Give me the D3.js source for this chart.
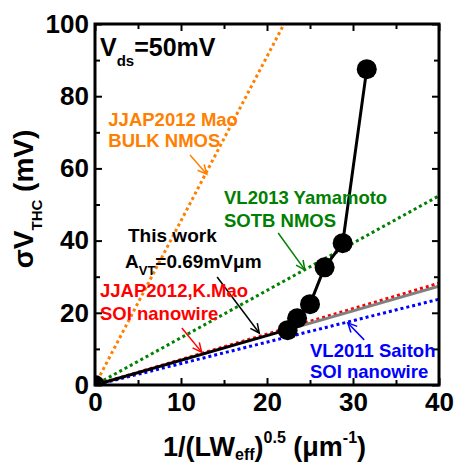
<!DOCTYPE html>
<html>
<head>
<meta charset="utf-8">
<script src="https://cdn.jsdelivr.net/npm/d3@7"></script>
<style>
  body { margin: 0; background: #fff; }
  text { font-family: "Liberation Sans", Arial, sans-serif; font-weight: bold; }
</style>
</head>
<body>
<div id="chart"></div>
<script>
// measured points (this work)
const workX = [22.4, 23.5, 25.0, 26.7, 28.8, 31.6];
const workY = [15.2, 18.5, 22.4, 32.6, 39.3, 87.5];

// fitted / reference lines: y = slope * x
const fitNames = ["JJAP2012 Mao BULK", "VL2013 Yamamoto SOTB", "VL2011 Saitoh SOI", "JJAP2012 K.Mao SOI", "This work ext", "This work"];
const fitSlopes = [4.55, 1.31, 0.594, 0.705, 0.685, 0.685];
const fitX0 = [0.6, 1, 1, 1, 21.3, 1];
const fitX1 = [40, 40, 40, 40, 40, 21.3];
const fitColors = ["#ff8000", "#008000", "#0000ff", "#ff0000", "#808080", "#000000"];
const fitDotted = [true, true, true, true, false, false];

const xTicks = [0, 10, 20, 30, 40];
const yTicks = [0, 20, 40, 60, 80, 100];

const margin = {top: 24, right: 15, bottom: 80, left: 95};
const width = 344, height = 361;

const svg = d3.select("#chart")
    .append("svg")
    .attr("width", 454)
    .attr("height", 465);

const g = svg.append("g")
    .attr("transform", `translate(${margin.left},${margin.top})`);

const x = d3.scaleLinear().domain([0, 40]).range([0, width]);
const y = d3.scaleLinear().domain([0, 100]).range([height, 0]);

svg.append("defs").append("clipPath").attr("id", "clip")
    .append("rect").attr("width", width).attr("height", height);

// minor ticks
g.append("g").attr("transform", `translate(0,${height})`)
    .call(d3.axisBottom(x).tickValues(d3.range(5, 40, 10)).tickSize(-5).tickFormat(""));
g.append("g")
    .call(d3.axisTop(x).tickValues(d3.range(5, 40, 10)).tickSize(-5).tickFormat(""));
g.append("g")
    .call(d3.axisLeft(y).tickValues(d3.range(10, 100, 20)).tickSize(-5).tickFormat(""));
g.append("g").attr("transform", `translate(${width},0)`)
    .call(d3.axisRight(y).tickValues(d3.range(10, 100, 20)).tickSize(-5).tickFormat(""));

// major ticks with labels
g.append("g").attr("transform", `translate(0,${height})`)
    .call(d3.axisBottom(x).tickValues(xTicks).tickSize(-7).tickPadding(8));
g.append("g")
    .call(d3.axisLeft(y).tickValues(yTicks).tickSize(-7).tickPadding(6));
g.append("g")
    .call(d3.axisTop(x).tickValues(xTicks).tickSize(-7).tickFormat(""));
g.append("g").attr("transform", `translate(${width},0)`)
    .call(d3.axisRight(y).tickValues(yTicks).tickSize(-7).tickFormat(""));

g.selectAll(".domain").remove();
g.selectAll(".tick line").attr("stroke", "#000").attr("stroke-width", 2);
g.selectAll(".tick text")
    .style("font-size", "26px")
    .style("font-family", "'Liberation Sans', Arial, sans-serif")
    .style("font-weight", "bold")
    .attr("fill", "#000");

// lines
const plot = g.append("g").attr("clip-path", "url(#clip)");
fitNames.forEach((name, i) => {
    plot.append("line")
        .attr("x1", x(fitX0[i])).attr("y1", y(fitSlopes[i] * fitX0[i]))
        .attr("x2", x(fitX1[i])).attr("y2", y(fitSlopes[i] * fitX1[i]))
        .attr("stroke", fitColors[i])
        .attr("stroke-width", 3)
        .attr("stroke-dasharray", fitDotted[i] ? "3,3" : null);
});

// this work points
const pts = workX.map((d, i) => ({x: d, y: workY[i]}));
plot.append("path")
    .datum(pts)
    .attr("fill", "none")
    .attr("stroke", "#000")
    .attr("stroke-width", 3)
    .attr("d", d3.line().x(d => x(d.x)).y(d => y(d.y)));

plot.selectAll("circle")
    .data([{x: 0, y: 0}].concat(pts))
    .enter()
    .append("circle")
    .attr("cx", d => x(d.x))
    .attr("cy", d => y(d.y))
    .attr("r", 10)
    .attr("fill", "#000");

// frame
g.append("rect")
    .attr("width", width).attr("height", height)
    .attr("fill", "none").attr("stroke", "#000").attr("stroke-width", 3);

// annotation arrows (tail x,y -> tip x,y in data units)
const arrows = [
    {c: "#ff8000", x0: 11.05, y0: 63.7, x1: 13.0, y1: 58.4},
    {c: "#008000", x0: 21.3, y0: 42.1, x1: 24.4, y1: 31.9},
    {c: "#000000", x0: 14.2, y0: 29.9, x1: 19.1, y1: 14.4},
    {c: "#ff0000", x0: 10.1, y0: 15.8, x1: 12.4, y1: 9.1},
    {c: "#0000ff", x0: 31.3, y0: 12.5, x1: 29.4, y1: 17.2}
];
arrows.forEach(a => {
    const X0 = x(a.x0), Y0 = y(a.y0), X1 = x(a.x1), Y1 = y(a.y1);
    const ang = Math.atan2(Y1 - Y0, X1 - X0);
    const L = 10, spread = 0.45;
    g.append("line").attr("x1", X0).attr("y1", Y0).attr("x2", X1).attr("y2", Y1)
        .attr("stroke", a.c).attr("stroke-width", 1.5);
    g.append("path")
        .attr("d", `M${X1 - L * Math.cos(ang - spread)},${Y1 - L * Math.sin(ang - spread)}L${X1},${Y1}L${X1 - L * Math.cos(ang + spread)},${Y1 - L * Math.sin(ang + spread)}`)
        .attr("fill", "none").attr("stroke", a.c).attr("stroke-width", 1.5);
});

// annotation text
function label(xv, yv, color, size, parts) {
    const t = g.append("text")
        .attr("x", x(xv)).attr("y", y(yv))
        .attr("fill", color)
        .style("font-size", size + "px");
    parts.forEach(p => {
        const s = t.append("tspan").text(p.t);
        if (p.dy) s.attr("dy", p.dy);
        if (p.fs) s.style("font-size", p.fs + "px");
    });
}

label(0.58, 91.1, "#000", 25, [{t: "V"}, {t: "ds", fs: 15, dy: 10}, {t: "=50mV", dy: -10}]);
label(1.55, 71.7, "#ff8000", 18.5, [{t: "JJAP2012 Mao"}]);
label(1.55, 65.9, "#ff8000", 18.5, [{t: "BULK NMOS"}]);
label(15.0, 50.1, "#008000", 18.5, [{t: "VL2013 Yamamoto"}]);
label(15.0, 43.8, "#008000", 18.5, [{t: "SOTB NMOS"}]);
label(3.84, 39.6, "#000", 19, [{t: "This work"}]);
label(3.49, 32.4, "#000", 19, [{t: "A"}, {t: "VT", fs: 13, dy: 7}, {t: "=0.69mV\u03bcm", dy: -7}]);
label(0.58, 24.4, "#ff0000", 18.5, [{t: "JJAP2012,K.Mao"}]);
label(0.58, 18.0, "#ff0000", 18.5, [{t: "SOI nanowire"}]);
label(25.0, 7.76, "#0000ff", 18.5, [{t: "VL2011 Saitoh"}]);
label(25.0, 1.94, "#0000ff", 18.5, [{t: "SOI nanowire"}]);

// axis titles
const xt = svg.append("text")
    .attr("x", 163).attr("y", 456)
    .style("font-size", "27px");
xt.append("tspan").text("1/(LW");
xt.append("tspan").text("eff").style("font-size", "16px").attr("dy", 4);
xt.append("tspan").text(")").attr("dy", -4);
xt.append("tspan").text("0.5").style("font-size", "16px").attr("dy", -13);
xt.append("tspan").text(" (\u03bcm").attr("dy", 13);
xt.append("tspan").text("-1").style("font-size", "16px").attr("dy", -13);
xt.append("tspan").text(")").attr("dy", 13);

const yt = svg.append("text")
    .attr("transform", "translate(33,199) rotate(-90)")
    .attr("text-anchor", "middle")
    .style("font-size", "28px");
yt.append("tspan").text("\u03c3V");
yt.append("tspan").text("THC").style("font-size", "15px").attr("dy", 9);
yt.append("tspan").text(" (mV)").attr("dy", -9);
</script>
</body>
</html>
